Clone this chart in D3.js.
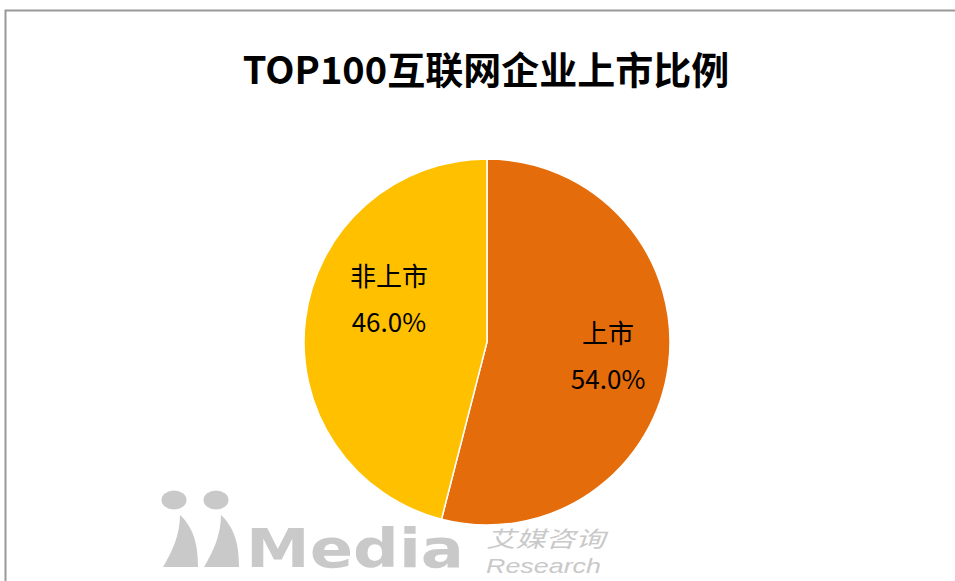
<!DOCTYPE html>
<html>
<head>
<meta charset="utf-8">
<script src="https://cdn.jsdelivr.net/npm/d3@7/dist/d3.min.js"></script>
<style>
  html, body { margin: 0; padding: 0; background: #fff; }
  svg { display: block; }
</style>
</head>
<body>
<svg id="chart" width="955" height="581"></svg>
<script>
// ---- data ----
const title = "TOP100互联网企业上市比例";
const categories = ["上市", "非上市"];
const values = [54.0, 46.0];
const colors = ["#E46C0A", "#FFC000"];

// ---- layout ----
const W = 955, H = 581;
const cx = 487, cy = 342, R = 183;
const cjk = "'Noto Sans CJK SC', 'Microsoft YaHei', sans-serif";

const svg = d3.select("#chart");

// chart frame
svg.append("rect")
  .attr("x", 5.5).attr("y", 10.5)
  .attr("width", W + 10).attr("height", H + 10)
  .attr("fill", "#fff")
  .attr("stroke", "#999").attr("stroke-width", 2);

// watermark (behind)
const wm = svg.append("g").attr("fill", "#c9c9c9");
[[174, 500], [216, 500]].forEach(([x, y]) => {
  wm.append("ellipse").attr("cx", x).attr("cy", y).attr("rx", 12.5).attr("ry", 9.5);
});
[0, 41].forEach(dx => {
  wm.append("path")
    .attr("d", `M${180 + dx},515 C${196 + dx},530 ${198 + dx},550 ${198 + dx},567 L${163 + dx},567 C${172 + dx},552 ${180 + dx},535 ${180 + dx},515 Z`);
});
wm.append("text")
  .attr("x", 246).attr("y", 567)
  .attr("font-family", "'DejaVu Sans', sans-serif")
  .attr("font-weight", "bold")
  .attr("font-size", 54)
  .attr("textLength", 218).attr("lengthAdjust", "spacingAndGlyphs")
  .text("Media");
wm.append("text")
  .attr("x", 486).attr("y", 547)
  .attr("font-family", cjk)
  .attr("font-style", "italic")
  .attr("font-size", 22)
  .attr("textLength", 119).attr("lengthAdjust", "spacingAndGlyphs")
  .text("艾媒咨询");
wm.append("text")
  .attr("x", 486).attr("y", 573)
  .attr("font-family", "'Liberation Sans', Arial, sans-serif")
  .attr("font-style", "italic")
  .attr("font-size", 21)
  .attr("textLength", 115).attr("lengthAdjust", "spacingAndGlyphs")
  .text("Research");

// title
svg.append("text")
  .attr("x", 486).attr("y", 84)
  .attr("text-anchor", "middle")
  .attr("font-family", cjk)
  .attr("font-weight", "bold")
  .attr("font-size", 38)
  .attr("fill", "#000")
  .text(title);

// pie
const data = categories.map((c, i) => ({ name: c, value: values[i], color: colors[i] }));
const pie = d3.pie().sort(null).value(d => d.value);
const arc = d3.arc().innerRadius(0).outerRadius(R);
const labelArc = d3.arc().innerRadius(R * 0.667).outerRadius(R * 0.667);
const arcs = pie(data);

const g = svg.append("g").attr("transform", `translate(${cx},${cy})`);
g.selectAll("path.slice")
  .data(arcs)
  .join("path")
  .attr("class", "slice")
  .attr("d", arc)
  .attr("fill", d => d.data.color)
  .attr("stroke", "#fff")
  .attr("stroke-width", 1.5);

// label nudges (layout, mimicking best-fit placement)
const nudges = [[0, 0], [23, -27]];
const fmt = d3.format(".1f");
const lbl = g.selectAll("g.lbl")
  .data(arcs)
  .join("g")
  .attr("class", "lbl")
  .attr("transform", (d, i) => {
    const [x, y] = labelArc.centroid(d);
    return `translate(${x + nudges[i][0]},${y + nudges[i][1]})`;
  });
lbl.append("text")
  .attr("text-anchor", "middle")
  .attr("y", -14)
  .attr("font-family", cjk)
  .attr("font-size", 26)
  .attr("fill", "#000")
  .text(d => d.data.name);
lbl.append("text")
  .attr("text-anchor", "middle")
  .attr("y", 32)
  .attr("font-family", cjk)
  .attr("font-size", 26)
  .attr("fill", "#000")
  .text(d => fmt(d.data.value) + "%");
</script>
</body>
</html>
